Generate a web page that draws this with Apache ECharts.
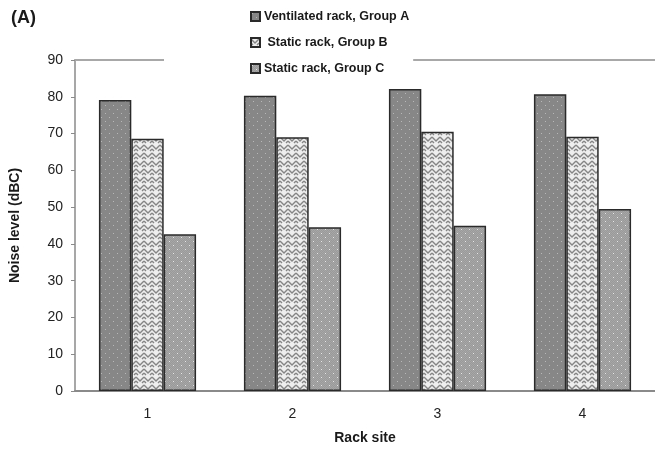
<!DOCTYPE html>
<html>
<head>
<meta charset="utf-8">
<script src="https://cdn.jsdelivr.net/npm/echarts@6/dist/echarts.min.js"></script>
<style>
  html, body { margin: 0; padding: 0; background: #fff; }
  #chart { width: 655px; height: 452px; }
</style>
</head>
<body>
<div id="chart"></div>
<script>
// data
var categories = ['1', '2', '3', '4'];
var seriesNames = ['Ventilated rack, Group A', ' Static rack, Group B', 'Static rack, Group C'];
var groupA = [79.1, 80.3, 82.1, 80.7];
var groupB = [68.6, 69.0, 70.5, 69.1];
var groupC = [42.6, 44.5, 44.9, 49.5];
var yTicks = { min: 0, max: 90, interval: 10 };

// small tiles used as bar fills
function tile(size, draw) {
    var c = document.createElement('canvas');
    c.width = size; c.height = size;
    draw(c.getContext('2d'));
    return { image: c, repeat: 'repeat' };
}
var dotsDark = tile(8, function (g) {
    g.fillStyle = '#878787'; g.fillRect(0, 0, 8, 8);
    g.fillStyle = '#b8b8b8';
    g.fillRect(1, 1, 1, 1); g.fillRect(5, 5, 1, 1);
});
var zigzag = tile(8, function (g) {
    g.fillStyle = '#eeeeee'; g.fillRect(0, 0, 8, 8);
    g.strokeStyle = '#858585'; g.lineWidth = 1.4;
    g.beginPath();
    g.moveTo(0, 1); g.lineTo(4, 5); g.lineTo(8, 1);
    g.moveTo(0, 5); g.lineTo(2, 7);
    g.moveTo(6, 7); g.lineTo(8, 5);
    g.stroke();
});
var dotsLight = tile(8, function (g) {
    g.fillStyle = '#a6a6a6'; g.fillRect(0, 0, 8, 8);
    g.fillStyle = '#9a9a9a';
    for (var i = 0; i < 8; i++) for (var j = 0; j < 8; j++) if ((i + j) % 2) g.fillRect(i, j, 1, 1);
    g.fillStyle = '#e6e6e6';
    g.fillRect(1, 1, 1, 1); g.fillRect(5, 5, 1, 1);
});

var font = "'Liberation Sans', Arial, sans-serif";

function barSeries(name, values, fill) {
    return {
        name: name,
        type: 'bar',
        data: values,
        barGap: '0%',
        barCategoryGap: '33%',
        itemStyle: { color: fill, borderColor: '#2a2a2a', borderWidth: 1.5 },
        emphasis: { disabled: true }
    };
}

var myChart = echarts.init(document.getElementById('chart'));
var option = {
    backgroundColor: '#fff',
    animation: false,
    title: {
        text: '(A)',
        left: 6, top: 4,
        textStyle: { fontFamily: font, fontSize: 18, fontWeight: 'bold', color: '#1a1a1a' }
    },
    legend: {
        orient: 'vertical',
        left: 164, top: 2,
        padding: [8, 4, 8, 86],
        backgroundColor: '#fff',
        itemWidth: 9, itemHeight: 9, itemGap: 13,
        icon: 'rect',
        data: seriesNames,
        textStyle: { fontFamily: font, fontSize: 12.5, fontWeight: 'bold', color: '#1a1a1a', padding: [0, 0, 0, -1] }
    },
    grid: { left: 75, right: -3, top: 60, bottom: 61 },
    xAxis: [{
        type: 'category',
        data: categories,
        name: 'Rack site',
        nameLocation: 'middle',
        nameGap: 40,
        nameTextStyle: { fontFamily: font, fontSize: 14, fontWeight: 'bold', color: '#1a1a1a' },
        axisLine: { lineStyle: { color: '#8a8a8a', width: 2 } },
        axisTick: { length: 5, lineStyle: { color: '#8a8a8a' } },
        axisLabel: { margin: 16, fontFamily: font, fontSize: 14, color: '#222' }
    }, {
        type: 'category',
        data: categories,
        position: 'top',
        axisLine: { lineStyle: { color: '#a8a8a8', width: 2 } },
        axisTick: { show: false },
        axisLabel: { show: false }
    }],
    yAxis: {
        type: 'value',
        min: yTicks.min, max: yTicks.max, interval: yTicks.interval,
        name: 'Noise level (dBC)',
        nameLocation: 'middle',
        nameRotate: 90,
        nameGap: 53,
        nameTextStyle: { fontFamily: font, fontSize: 14, fontWeight: 'bold', color: '#1a1a1a' },
        axisLine: { show: true, lineStyle: { color: '#8a8a8a', width: 1.5 } },
        axisTick: { show: true, length: 4, lineStyle: { color: '#8a8a8a' } },
        axisLabel: { margin: 12, fontFamily: font, fontSize: 14, color: '#222' },
        splitLine: { show: false }
    },
    series: [
        barSeries(seriesNames[0], groupA, dotsDark),
        barSeries(seriesNames[1], groupB, zigzag),
        barSeries(seriesNames[2], groupC, dotsLight)
    ]
};
myChart.setOption(option);
</script>
</body>
</html>
